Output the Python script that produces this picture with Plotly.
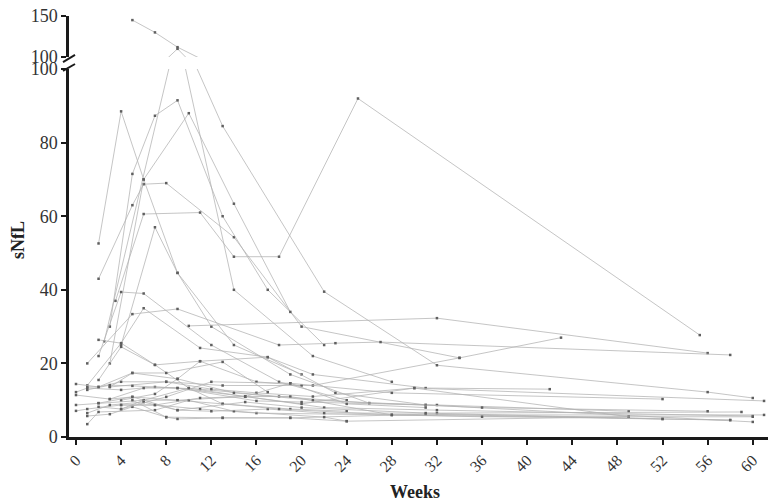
import plotly.graph_objects as go

# Serum neurofilament light (sNfL) per patient over follow-up (weeks)
visit_weeks = [
    [5, 7, 9, 13, 22, 32, 56, 60],
    [2.5, 9, 14, 21, 28],
    [2, 4, 6, 9, 14, 20],
    [2, 5, 6, 8, 14, 20, 34],
    [3.5, 6, 11, 14, 18, 25, 55.3],
    [4, 7, 9, 12, 19, 26],
    [3, 5, 7, 9, 13, 17, 22],
    [3, 6, 10, 14, 19],
    [1, 4, 6, 11, 17, 23, 31],
    [2, 4, 6, 12, 18, 24],
    [10, 32, 56],
    [1, 5, 9, 18, 23, 27, 58],
    [2, 4, 7, 11, 17, 21, 31, 42],
    [3, 8, 13, 21, 34, 43],
    [0, 1, 4, 7, 11, 18, 26, 32, 49],
    [0, 3, 5, 9, 13, 19, 24],
    [0, 2, 6, 9, 15, 22, 32, 60],
    [0, 1, 4, 7, 11, 16, 28, 58],
    [1, 3, 5, 8, 13, 19, 31, 52],
    [1, 2, 7, 10, 14, 22, 24, 49],
    [1, 3, 6, 9, 12, 17, 22, 32, 59],
    [1, 2, 4, 8, 12, 16, 21, 30, 61],
    [1, 3, 5, 9, 16, 20, 31, 60],
    [2, 4, 7, 10, 15, 19, 28, 61],
    [3, 5, 8, 13, 17],
    [4, 7, 9, 11, 16, 20],
    [2, 4, 8, 12, 19, 28, 52],
    [0, 2, 5, 9, 14, 21, 36, 56],
    [3, 6, 9, 15, 19, 24, 31],
    [4, 7, 11, 15, 20, 30, 49],
    [5, 8, 9, 13, 19, 24],
    [4, 6, 10, 13, 18, 28, 36, 60],
    [2, 5, 9, 15, 20, 31, 52, 58],
]
snfl_values = [
    [145, 130, 112, 84.5, 39.5, 19.5, 12.2, 10.6],
    [26, 110, 40, 22, 15],
    [52.6, 88.5, 70, 44.6, 25, 17],
    [43, 63, 68.7, 69, 54.3, 30, 21.5],
    [37, 60.6, 61, 49, 49, 92, 27.7],
    [25, 57, 44.6, 30, 17, 9.2],
    [30, 71.5, 87.3, 91.5, 60, 40, 25],
    [20, 70, 88, 63.4, 34],
    [14, 25.5, 35, 24.2, 21.7, 12, 8.7],
    [22, 39.4, 39, 25, 15, 10],
    [30.2, 32.3, 22.8],
    [20, 33.4, 34.8, 25, 25.5, 25.8, 22.3],
    [26.4, 25.5, 19.6, 20.6, 21.7, 17, 13.3, 13],
    [13.6, 15, 14, 14, 21.5, 27],
    [12.2, 13.3, 12.8, 13.6, 13, 11, 9.2, 8.7, 7],
    [11.4, 10.3, 10.9, 10, 9, 7.6, 7],
    [8.7, 9.2, 10, 10, 11, 8, 7.3, 5.7],
    [7.1, 7.6, 8.7, 8.7, 7.6, 6.5, 6, 4.6],
    [5.7, 6.2, 8.2, 5.4, 5.2, 5.2, 6.2, 4.9],
    [3.5, 6.8, 7.3, 10, 7, 5.4, 4.3, 5.5],
    [6.5, 8.7, 9.5, 7.3, 7, 7.6, 6.5, 6.5, 6.8],
    [13.6, 13.6, 15, 15, 13, 12, 11, 13.3, 9.8],
    [12.8, 14.1, 13.9, 13.3, 9.8, 9.5, 8.7, 4.1],
    [15.5, 24.5, 19.6, 13.3, 11, 11, 6, 6],
    [13.6, 17.4, 17.4, 20.4, 12.2],
    [10, 11.7, 15.8, 20.6, 15, 14],
    [8.2, 7.6, 10.9, 15, 14.6, 12, 10.3],
    [14.4, 13.6, 17.4, 15.8, 12, 10, 8, 7],
    [10.3, 13.3, 13.3, 11, 14.6, 9, 8],
    [8.7, 8.7, 10.6, 11, 9, 13.3, 5.5],
    [10, 5.4, 4.9, 5.2, 5.2, 4.3],
    [7.6, 10, 13.3, 9, 7.6, 6, 5.5, 5.5],
    [9.2, 10.9, 7.3, 9.5, 8, 6.5, 4.9, 4.6],
]

week_ticks = list(range(0, 61, 4))
lower_ticks = [0, 20, 40, 60, 80, 100]
upper_ticks = [100, 150]

LINE = "rgb(178,178,178)"
MARK = "rgb(95,95,95)"
AXIS = "#1a1a1a"
FONT = "Liberation Serif, Times New Roman, serif"

fig = go.Figure()
# every patient drawn on both panels of the broken axis; each panel clips its part
for w, v in zip(visit_weeks, snfl_values):
    for xa, ya in (("x", "y"), ("x2", "y2")):
        fig.add_trace(go.Scatter(
            x=w, y=v, xaxis=xa, yaxis=ya, mode="lines+markers",
            line=dict(color=LINE, width=0.75),
            marker=dict(size=2.5, color=MARK, symbol="square"),
            cliponaxis=True, showlegend=False, hoverinfo="skip",
        ))

tick_font = dict(family=FONT, size=18, color="#333")
fig.update_layout(
    width=768, height=504,
    margin=dict(l=69, r=0, t=16, b=67),
    paper_bgcolor="white", plot_bgcolor="white",
    xaxis=dict(
        domain=[0, 1], range=[-0.62, 61.35], anchor="y",
        tickvals=week_ticks, tickangle=-45, ticks="outside", ticklen=5, tickwidth=2,
        tickcolor=AXIS, showline=True, linewidth=2.5, linecolor=AXIS,
        showgrid=False, zeroline=False, automargin=False,
        tickfont=dict(family=FONT, size=16, color="#333"),
    ),
    xaxis2=dict(matches="x", anchor="y2", visible=False, range=[-0.62, 61.35]),
    yaxis=dict(
        domain=[0, 0.874], range=[0, 100], anchor="x",
        tickvals=lower_ticks, ticks="outside", ticklen=5, tickwidth=2, tickcolor=AXIS,
        showline=True, linewidth=2.5, linecolor=AXIS, showgrid=False, zeroline=False,
        automargin=False, tickfont=tick_font,
    ),
    yaxis2=dict(
        domain=[0.9026, 1], range=[100, 150], anchor="x2",
        tickvals=upper_ticks, ticks="outside", ticklen=5, tickwidth=2, tickcolor=AXIS,
        showline=True, linewidth=2.5, linecolor=AXIS, showgrid=False, zeroline=False,
        automargin=False, tickfont=tick_font,
    ),
    annotations=[
        dict(text="<b>sNfL</b>", xref="paper", yref="paper", x=-0.073, y=0.468,
             xanchor="center", yanchor="middle",
             textangle=-90, showarrow=False, font=dict(family=FONT, size=18, color="#222")),
        dict(text="<b>Weeks</b>", xref="paper", yref="paper", x=0.495, y=-0.131,
             xanchor="center", yanchor="middle",
             showarrow=False, font=dict(family=FONT, size=18, color="#222")),
    ],
    shapes=[
        # break marks between the two y-axis segments
        dict(type="line", xref="paper", yref="paper", x0=-0.0086, y0=0.8907,
             x1=0.0086, y1=0.9074, line=dict(color=AXIS, width=2)),
        dict(type="line", xref="paper", yref="paper", x0=-0.0086, y0=0.8694,
             x1=0.0086, y1=0.886, line=dict(color=AXIS, width=2)),
    ],
)

fig.write_html("out.html")
